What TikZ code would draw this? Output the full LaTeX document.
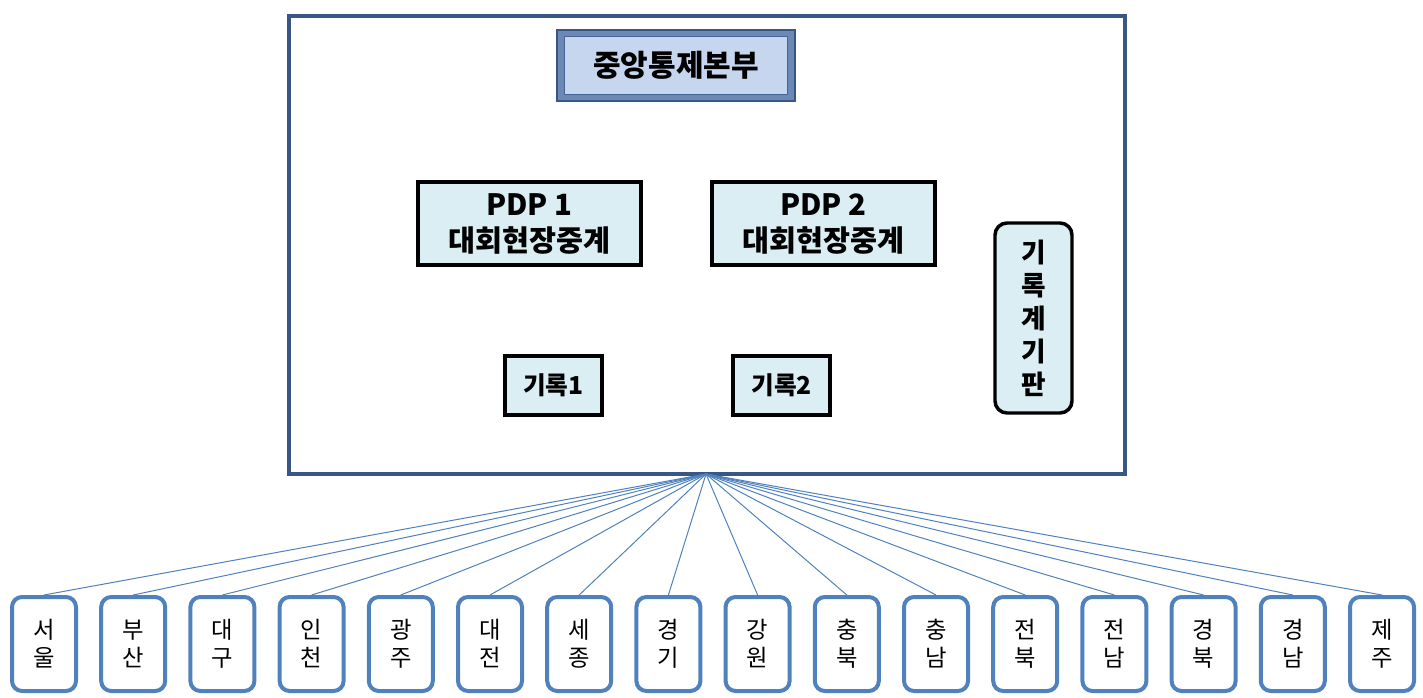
\documentclass[tikz,border=0pt]{standalone}
\usepackage{fontspec}
\setmainfont{Noto Sans CJK KR}
\usepackage{tikz}

\begin{document}
\begin{tikzpicture}[x=0.75pt,y=0.75pt,yscale=-1,xscale=1,
  pdpbox/.style={draw, line width=2.6, fill={rgb, 255:red, 218; green, 238; blue, 243 }, inner sep=0.75pt, align=center, font=\fontsize{22}{27}\selectfont\bfseries},
  recbox/.style={draw, line width=2.6, fill={rgb, 255:red, 218; green, 238; blue, 243 }, inner sep=0.75pt, font=\fontsize{18.5}{20}\selectfont\bfseries},
  areabox/.style={draw={rgb, 255:red, 79; green, 129; blue, 189 }, line width=3, rounded corners=7.5pt, fill=white, minimum width=48pt, minimum height=70.5pt, inner sep=0.75pt, align=center, font=\fontsize{17.5}{21}\selectfont},
  feed/.style={color={rgb, 255:red, 79; green, 129; blue, 189 }, line width=0.75}]
\useasboundingbox (0,0) rectangle (1423,698);

%Shape: Rectangle (main room)
\draw [color={rgb, 255:red, 56; green, 87; blue, 135 }, line width=2.6] (289,16) rectangle (1125,474);
\coordinate (hub) at (706,474);

%Shape: Bevel
\node (hq) at (676,65.5) [draw={rgb, 255:red, 56; green, 87; blue, 135 }, line width=2, fill={rgb, 255:red, 108; green, 137; blue, 182 }, minimum width=178.5pt, minimum height=53.25pt] {};
% Text Node
\node (hqtext) at (hq.center) [draw={rgb, 255:red, 70; green, 100; blue, 150 }, line width=0.8, fill={rgb, 255:red, 198; green, 214; blue, 238 }, minimum width=167pt, minimum height=44pt, font=\fontsize{22.5}{24}\selectfont\bfseries] {중앙통제본부};

%Shape: Rectangle
\node (pdp1) at (529.5,223.5) [pdpbox, minimum width=167.25pt, minimum height=62.25pt] {PDP 1\\대회현장중계};
\node (pdp2) at (823.5,223.5) [pdpbox, minimum width=167.25pt, minimum height=62.25pt] {PDP 2\\대회현장중계};
\node (rec1) at (553.5,385.5) [recbox, minimum width=72.75pt, minimum height=44.25pt] {기록1};
\node (rec2) at (781.5,385.5) [recbox, minimum width=72.75pt, minimum height=44.25pt] {기록2};

%Rounded Rect
\node (board) at (1033.5,318) [pdpbox, rounded corners=9pt, minimum width=57.75pt, minimum height=142.5pt, font=\fontsize{20}{24.75}\selectfont\bfseries] {기\\록\\계\\기\\판};

%Rounded Rect (regions)
\node (seoul) at (44,644) [areabox] {서\\울};
\node (busan) at (133.2,644) [areabox] {부\\산};
\node (daegu) at (222.4,644) [areabox] {대\\구};
\node (incheon) at (311.6,644) [areabox] {인\\천};
\node (gwangju) at (400.8,644) [areabox] {광\\주};
\node (daejeon) at (490,644) [areabox] {대\\전};
\node (sejong) at (579.2,644) [areabox] {세\\종};
\node (gyeonggi) at (668.4,644) [areabox] {경\\기};
\node (gangwon) at (757.6,644) [areabox] {강\\원};
\node (chungbuk) at (846.8,644) [areabox] {충\\북};
\node (chungnam) at (936,644) [areabox] {충\\남};
\node (jeonbuk) at (1025.2,644) [areabox] {전\\북};
\node (jeonnam) at (1114.4,644) [areabox] {전\\남};
\node (gyeongbuk) at (1203.6,644) [areabox] {경\\북};
\node (gyeongnam) at (1292.8,644) [areabox] {경\\남};
\node (jeju) at (1382,644) [areabox] {제\\주};

%Straight Lines
\draw [feed] (hub) -- (seoul.north);
\draw [feed] (hub) -- (busan.north);
\draw [feed] (hub) -- (daegu.north);
\draw [feed] (hub) -- (incheon.north);
\draw [feed] (hub) -- (gwangju.north);
\draw [feed] (hub) -- (daejeon.north);
\draw [feed] (hub) -- (sejong.north);
\draw [feed] (hub) -- (gyeonggi.north);
\draw [feed] (hub) -- (gangwon.north);
\draw [feed] (hub) -- (chungbuk.north);
\draw [feed] (hub) -- (chungnam.north);
\draw [feed] (hub) -- (jeonbuk.north);
\draw [feed] (hub) -- (jeonnam.north);
\draw [feed] (hub) -- (gyeongbuk.north);
\draw [feed] (hub) -- (gyeongnam.north);
\draw [feed] (hub) -- (jeju.north);

\end{tikzpicture}
\end{document}
